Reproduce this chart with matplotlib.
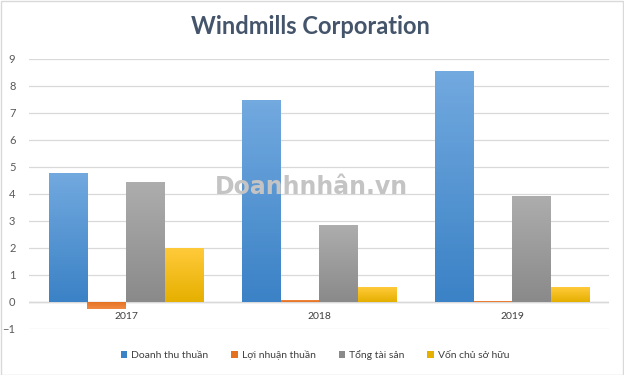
import numpy as np
import matplotlib.pyplot as plt
from matplotlib.colors import LinearSegmentedColormap
from matplotlib.patches import Rectangle

plt.rcParams['font.family'] = ['Lato', 'Noto Sans', 'DejaVu Sans']

years = ['2017', '2018', '2019']
series = ['Doanh thu thuần', 'Lợi nhuận thuần', 'Tổng tài sản', 'Vốn chủ sở hữu']
doanh_thu = [4.78, 7.48, 8.55]
loi_nhuan = [-0.27, 0.07, 0.02]
tong_tai_san = [4.44, 2.85, 3.93]
von_chu = [2.0, 0.55, 0.55]
values = [doanh_thu, loi_nhuan, tong_tai_san, von_chu]

# (top colour, bottom colour) for the gradient fills
colors = [('#72a9df', '#3b82c6'),
          ('#f08a44', '#e5701f'),
          ('#adadad', '#8a8a8a'),
          ('#ffca3a', '#e6b000')]

fig = plt.figure(figsize=(6.24, 3.75), dpi=100)
ax = fig.add_axes([0.047, 0.1227, 0.929, 0.72])

x = np.arange(len(years))
w = 0.2
for i, (vals, (ctop, cbot)) in enumerate(zip(values, colors)):
    bars = ax.bar(x + (i - 1.5) * w, vals, w, color=cbot, label=series[i], zorder=2)
    cmap = LinearSegmentedColormap.from_list('g', [cbot, ctop])
    grad = np.linspace(0, 1, 64).reshape(-1, 1)
    for b in bars:
        x0, y0 = b.get_x(), b.get_y()
        bw, bh = b.get_width(), b.get_height()
        im = ax.imshow(grad, cmap=cmap, origin='lower', aspect='auto',
                       extent=[x0, x0 + bw, y0, y0 + bh], zorder=3)
        im.set_clip_path(b)

ax.set_xlim(-0.5, 2.5)
ax.set_ylim(-1, 9)
ax.set_yticks(range(-1, 10))
ax.yaxis.grid(True, color='#d9d9d9', linewidth=0.9, zorder=0)
ax.axhline(0, color='#d0d0d0', linewidth=1.0, zorder=1)
ax.set_xticks([])
ax.tick_params(axis='y', length=0, labelsize=8, labelcolor='#595959', pad=10)
for s in ax.spines.values():
    s.set_visible(False)

for xi, yr in zip(x, years):
    ax.text(xi, -0.55, yr, ha='center', va='center', fontsize=7.5, color='#404040')

# watermark
ax.text(0.96, 4.25, 'Doanhnhân.vn', ha='center', va='center', fontsize=17,
        fontweight='bold', color='#c4c4c4', zorder=4, family='DejaVu Sans')

fig.text(0.497, 0.93, 'Windmills Corporation', ha='center', va='center',
         fontsize=17, fontweight='bold', color='#44546a')

handles, labels = ax.get_legend_handles_labels()
fig.legend(handles, labels, loc='center', bbox_to_anchor=(0.505, 0.053), ncol=4,
           frameon=False, fontsize=7.5, handlelength=0.6, handleheight=0.6,
           handletextpad=0.4, columnspacing=2.2, labelcolor='#404040')

fig.patches.append(Rectangle((0.001, 0.001), 0.997, 0.997, transform=fig.transFigure,
                             fill=False, edgecolor='#d9d9d9', linewidth=1))

fig.savefig('out.png', dpi=100)
